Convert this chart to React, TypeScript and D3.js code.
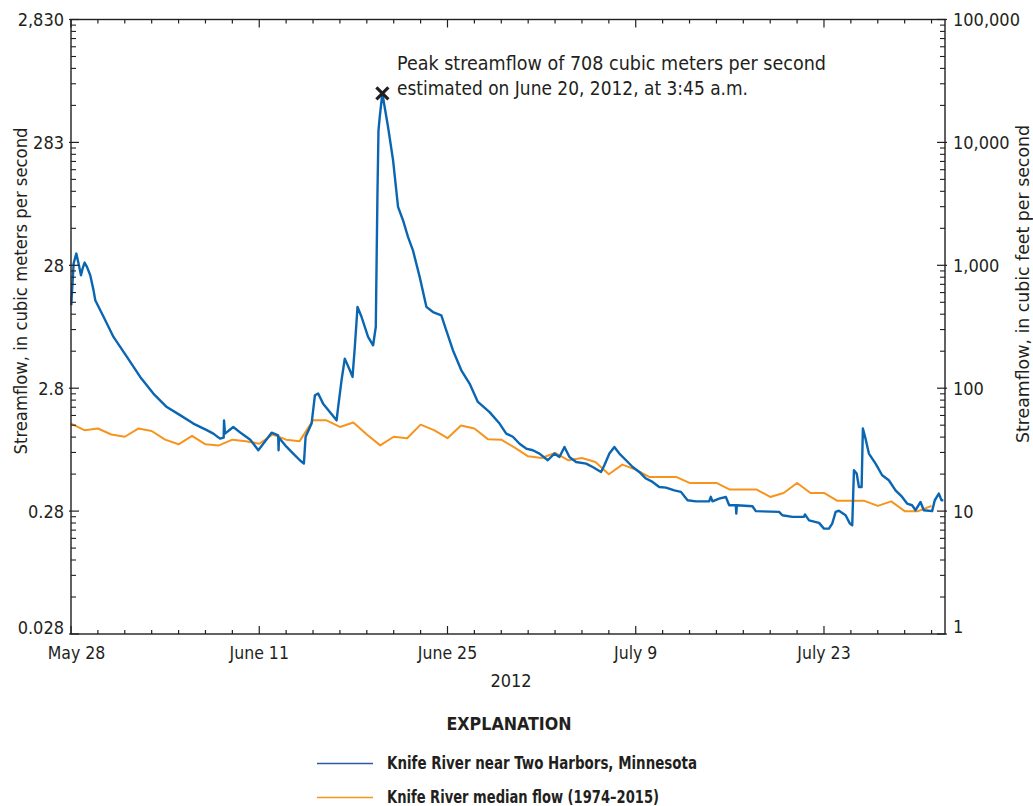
import React from "react";
import * as d3 from "d3";

// 1 cubic foot per second expressed in cubic meters per second
const M3_PER_CFS = 0.0283168;

const leftTickLabels = ["0.028", "0.28", "2.8", "28", "283", "2,830"];
const rightTickLabels = ["1", "10", "100", "1,000", "10,000", "100,000"];
const dateTicks = ["2012-05-28", "2012-06-11", "2012-06-25", "2012-07-09", "2012-07-23"];
const dateTickLabels = ["May 28", "June 11", "June 25", "July 9", "July 23"];

// Daily median flow (1974–2015), m³/s, one value per day starting May 28
const medianStart = "2012-05-28";
const medianFlow = [
  1.46, 1.29, 1.33, 1.19, 1.14, 1.33, 1.27, 1.08, 0.99, 1.16,
  0.99, 0.97, 1.08, 1.05, 1.0, 1.19, 1.08, 1.05, 1.55, 1.55,
  1.37, 1.49, 1.19, 0.97, 1.14, 1.11, 1.43, 1.29, 1.11, 1.41,
  1.33, 1.09, 1.08, 0.93, 0.79, 0.766, 0.842, 0.734, 0.766, 0.711,
  0.565, 0.677, 0.616, 0.537, 0.537, 0.537, 0.48, 0.48, 0.48, 0.424,
  0.424, 0.424, 0.369, 0.398, 0.48, 0.398, 0.398, 0.343, 0.343, 0.343,
  0.312, 0.34, 0.283, 0.283, 0.312,
];

// Knife River near Two Harbors, instantaneous streamflow, m³/s
const knifeRiverFlow: [string, number][] = [
  ["2012-05-28 00:30", 13.4], ["2012-05-28 04:40", 29.3], ["2012-05-28 09:30", 35.3],
  ["2012-05-28 13:30", 29.3], ["2012-05-28 17:50", 23.5], ["2012-05-28 20:40", 26.6],
  ["2012-05-29 00:15", 29.8], ["2012-05-29 04:30", 27.5], ["2012-05-29 10:20", 23.5],
  ["2012-05-29 16:15", 17.7], ["2012-05-29 19:20", 14.7], ["2012-05-30 10:05", 10.8],
  ["2012-05-31 03:50", 7.4], ["2012-06-01 03:50", 5.09], ["2012-06-02 03:30", 3.5],
  ["2012-06-03 03:00", 2.56], ["2012-06-04 03:00", 1.99], ["2012-06-05 02:40", 1.71],
  ["2012-06-06 02:25", 1.46], ["2012-06-07 02:20", 1.29], ["2012-06-07 14:05", 1.21],
  ["2012-06-08 02:00", 1.1], ["2012-06-08 08:30", 1.12], ["2012-06-08 09:10", 1.55],
  ["2012-06-08 10:50", 1.21], ["2012-06-09 01:40", 1.37], ["2012-06-09 16:35", 1.21],
  ["2012-06-10 08:00", 1.08], ["2012-06-10 22:20", 0.885], ["2012-06-11 07:10", 1.0],
  ["2012-06-11 22:05", 1.23], ["2012-06-12 09:50", 1.17], ["2012-06-12 10:30", 0.885],
  ["2012-06-12 11:10", 1.12], ["2012-06-13 00:55", 0.942], ["2012-06-13 12:40", 0.832],
  ["2012-06-14 00:30", 0.734], ["2012-06-14 07:40", 0.69], ["2012-06-14 10:45", 1.14],
  ["2012-06-14 21:25", 1.46], ["2012-06-15 03:20", 2.48], ["2012-06-15 09:10", 2.56],
  ["2012-06-15 18:00", 2.12], ["2012-06-16 06:00", 1.81], ["2012-06-16 18:00", 1.55],
  ["2012-06-16 20:50", 1.99], ["2012-06-17 02:55", 3.29], ["2012-06-17 08:40", 4.93],
  ["2012-06-17 17:45", 3.96], ["2012-06-17 22:30", 3.5], ["2012-06-18 02:35", 6.13],
  ["2012-06-18 07:25", 13.0], ["2012-06-18 14:30", 10.8], ["2012-06-19 02:15", 7.4],
  ["2012-06-19 11:15", 6.33], ["2012-06-19 16:00", 8.92], ["2012-06-19 19:00", 108.6],
  ["2012-06-19 20:50", 355], ["2012-06-19 23:05", 456], ["2012-06-20 03:45", 708],
  ["2012-06-20 13:55", 378], ["2012-06-20 22:50", 203], ["2012-06-21 07:45", 84.5],
  ["2012-06-21 16:35", 65.9], ["2012-06-22 01:30", 48.2], ["2012-06-22 10:20", 37.5],
  ["2012-06-22 22:20", 22.8], ["2012-06-23 10:20", 13.0], ["2012-06-23 22:05", 11.8],
  ["2012-06-24 13:00", 11.1], ["2012-06-24 21:50", 8.38], ["2012-06-25 09:40", 5.77],
  ["2012-06-26 00:40", 3.96], ["2012-06-26 15:25", 3.09], ["2012-06-27 06:15", 2.19],
  ["2012-06-28 03:05", 1.81], ["2012-06-28 20:55", 1.46], ["2012-06-29 08:50", 1.21],
  ["2012-06-29 20:40", 1.14], ["2012-06-30 08:35", 1.0], ["2012-06-30 20:25", 0.914],
  ["2012-07-01 08:15", 0.885], ["2012-07-01 20:10", 0.832], ["2012-07-02 11:00", 0.734],
  ["2012-07-02 22:50", 0.832], ["2012-07-03 07:50", 0.781], ["2012-07-03 16:50", 0.942],
  ["2012-07-04 01:40", 0.781], ["2012-07-04 13:30", 0.711], ["2012-07-05 07:25", 0.69],
  ["2012-07-05 19:10", 0.647], ["2012-07-06 10:05", 0.59], ["2012-07-06 16:00", 0.668],
  ["2012-07-07 01:00", 0.832], ["2012-07-07 09:50", 0.942], ["2012-07-07 18:45", 0.832],
  ["2012-07-08 06:40", 0.734], ["2012-07-08 18:30", 0.647], ["2012-07-09 06:15", 0.59],
  ["2012-07-09 18:15", 0.521], ["2012-07-10 06:00", 0.489], ["2012-07-10 18:00", 0.445],
  ["2012-07-11 06:00", 0.44], ["2012-07-11 20:50", 0.418], ["2012-07-12 08:40", 0.406],
  ["2012-07-12 20:25", 0.347], ["2012-07-13 11:20", 0.34], ["2012-07-14 11:00", 0.34],
  ["2012-07-14 14:00", 0.37], ["2012-07-14 17:00", 0.34], ["2012-07-15 04:50", 0.358],
  ["2012-07-15 16:50", 0.369], ["2012-07-15 22:50", 0.316], ["2012-07-16 10:35", 0.316],
  ["2012-07-16 11:30", 0.27], ["2012-07-16 12:30", 0.316], ["2012-07-17 16:20", 0.31],
  ["2012-07-17 22:20", 0.283], ["2012-07-19 15:50", 0.279], ["2012-07-19 21:40", 0.262],
  ["2012-07-20 15:35", 0.254], ["2012-07-21 12:20", 0.254], ["2012-07-21 14:00", 0.266],
  ["2012-07-21 21:20", 0.238], ["2012-07-22 15:10", 0.227], ["2012-07-23 00:00", 0.204],
  ["2012-07-23 08:55", 0.204], ["2012-07-23 14:40", 0.224], ["2012-07-23 20:50", 0.279],
  ["2012-07-24 02:40", 0.285], ["2012-07-24 14:35", 0.262], ["2012-07-24 22:20", 0.224],
  ["2012-07-25 02:25", 0.217], ["2012-07-25 05:30", 0.609], ["2012-07-25 10:20", 0.572],
  ["2012-07-25 14:25", 0.445], ["2012-07-25 19:10", 0.445], ["2012-07-25 21:25", 1.33],
  ["2012-07-26 02:10", 1.1], ["2012-07-26 08:10", 0.832], ["2012-07-26 20:05", 0.69],
  ["2012-07-27 07:50", 0.554], ["2012-07-27 19:45", 0.505], ["2012-07-28 07:40", 0.418],
  ["2012-07-28 19:30", 0.369], ["2012-07-29 04:20", 0.326], ["2012-07-29 13:15", 0.316],
  ["2012-07-29 19:25", 0.288], ["2012-07-30 04:20", 0.336], ["2012-07-30 10:05", 0.288],
  ["2012-07-31 01:00", 0.283], ["2012-07-31 05:45", 0.347], ["2012-07-31 13:00", 0.393],
  ["2012-07-31 17:45", 0.347], ["2012-07-31 21:00", 0.347],
];

const peakTime = "2012-06-20 03:45";
const peakFlow = 708;

const FONT = "'Liberation Sans Narrow', 'Arial Narrow', 'DejaVu Sans Condensed', sans-serif";
const INK = "#231f20";
const BLUE = "#0a66b2";
const ORANGE = "#f7941d";

const parseTime = d3.timeParse("%Y-%m-%d %H:%M");
const parseDay = d3.timeParse("%Y-%m-%d");

export default function App() {
  const width = 1033;
  const height = 806;
  const left = 71;
  const right = 945;
  const top = 19.5;
  const bottom = 634;

  const start = parseDay("2012-05-28") as Date;
  const end = parseDay("2012-08-01") as Date;

  const x = d3.scaleTime().domain([start, end]).range([left, right]);
  const yL = d3.scaleLog().domain([M3_PER_CFS, M3_PER_CFS * 1e5]).range([bottom, top]);
  const yR = d3.scaleLog().domain([1, 1e5]).range([bottom, top]);

  const flowPts = knifeRiverFlow.map(([t, v]) => ({ t: parseTime(t) as Date, v }));
  const medStart = parseDay(medianStart) as Date;
  const medPts = medianFlow.map((v, i) => ({ t: d3.timeDay.offset(medStart, i), v }));

  const line = d3
    .line<{ t: Date; v: number }>()
    .x((d) => x(d.t))
    .y((d) => yL(d.v));

  const leftMajor = leftTickLabels.map((_, k) => M3_PER_CFS * Math.pow(10, k));
  const leftMinor: number[] = [];
  for (let k = 0; k < 5; k++)
    for (let m = 2; m <= 9; m++) leftMinor.push(M3_PER_CFS * m * Math.pow(10, k));
  const rightMajor = rightTickLabels.map((_, k) => Math.pow(10, k));
  const rightMinor: number[] = [];
  for (let k = 0; k < 5; k++) for (let m = 2; m <= 9; m++) rightMinor.push(m * Math.pow(10, k));

  const dayTicks = d3.range(0, 65, 2).map((i) => d3.timeDay.offset(start, i));
  const majorDates = dateTicks.map((d) => (parseDay(d) as Date).getTime());

  const px = x(parseTime(peakTime) as Date);
  const py = yL(peakFlow);

  return (
    <svg
      width={width}
      height={height}
      style={{ position: "absolute", left: 0, top: 0, background: "#fff" }}
      fontFamily={FONT}
      fill={INK}
    >
      {/* data lines */}
      <path d={line(medPts) || ""} fill="none" stroke={ORANGE} strokeWidth={2} strokeLinejoin="round" />
      <path d={line(flowPts) || ""} fill="none" stroke={BLUE} strokeWidth={2.4} strokeLinejoin="round" />

      {/* frame */}
      <rect x={left} y={top} width={right - left} height={bottom - top} fill="none" stroke={INK} strokeWidth={1.4} />

      {/* bottom and top time ticks */}
      {dayTicks.map((d, i) => {
        const major = majorDates.includes(d.getTime());
        const len = major ? 8 : 4;
        const xx = x(d);
        return (
          <g key={"xt" + i} stroke={INK} strokeWidth={1.2}>
            <line x1={xx} x2={xx} y1={bottom} y2={bottom - len} />
            <line x1={xx} x2={xx} y1={top} y2={top + len} />
          </g>
        );
      })}

      {/* left axis ticks */}
      {leftMajor.map((v, i) => (
        <line key={"lM" + i} x1={left - 2} x2={left + 8} y1={yL(v)} y2={yL(v)} stroke={INK} strokeWidth={1.2} />
      ))}
      {leftMinor.map((v, i) => (
        <line key={"lm" + i} x1={left} x2={left + 5} y1={yL(v)} y2={yL(v)} stroke={INK} strokeWidth={1.1} />
      ))}
      {/* right axis ticks */}
      {rightMajor.map((v, i) => (
        <line key={"rM" + i} x1={right + 2} x2={right - 8} y1={yR(v)} y2={yR(v)} stroke={INK} strokeWidth={1.2} />
      ))}
      {rightMinor.map((v, i) => (
        <line key={"rm" + i} x1={right} x2={right - 5} y1={yR(v)} y2={yR(v)} stroke={INK} strokeWidth={1.1} />
      ))}

      {/* left tick labels */}
      {leftMajor.map((v, i) => (
        <text
          key={"lL" + i}
          x={64}
          y={yL(v) + (i === 0 ? -7 : 0)}
          textAnchor="end"
          dominantBaseline="central"
          fontSize={18}
        >
          {leftTickLabels[i]}
        </text>
      ))}
      {/* right tick labels */}
      {rightMajor.map((v, i) => (
        <text
          key={"rL" + i}
          x={953}
          y={yR(v) + (i === 0 ? -8 : 0)}
          textAnchor="start"
          dominantBaseline="central"
          fontSize={18}
        >
          {rightTickLabels[i]}
        </text>
      ))}

      {/* date labels */}
      {dateTicks.map((d, i) => (
        <text
          key={"dL" + i}
          x={x(parseDay(d) as Date) + (i === 0 ? 5.5 : 0)}
          y={659}
          textAnchor="middle"
          fontSize={17.5}
        >
          {dateTickLabels[i]}
        </text>
      ))}
      <text x={511} y={686.5} textAnchor="middle" fontSize={18}>
        2012
      </text>

      {/* axis titles */}
      <text
        transform={`translate(20,291) rotate(-90)`}
        textAnchor="middle"
        dominantBaseline="central"
        fontSize={18}
        textLength={327}
        lengthAdjust="spacingAndGlyphs"
      >
        Streamflow, in cubic meters per second
      </text>
      <text
        transform={`translate(1022,284) rotate(-90)`}
        textAnchor="middle"
        dominantBaseline="central"
        fontSize={18}
        textLength={318}
        lengthAdjust="spacingAndGlyphs"
      >
        Streamflow, in cubic feet per second
      </text>

      {/* peak marker and note */}
      <g stroke={INK} strokeWidth={3.2} strokeLinecap="butt">
        <line x1={px - 6} y1={py - 6} x2={px + 6} y2={py + 6} />
        <line x1={px - 6} y1={py + 6} x2={px + 6} y2={py - 6} />
      </g>
      <text x={397} y={70} fontSize={19} textLength={429} lengthAdjust="spacingAndGlyphs">
        Peak streamflow of {peakFlow} cubic meters per second
      </text>
      <text x={397} y={95} fontSize={19} textLength={351} lengthAdjust="spacingAndGlyphs">
        estimated on June 20, 2012, at 3:45 a.m.
      </text>

      {/* explanation */}
      <text x={509} y={729.5} textAnchor="middle" fontSize={18} fontWeight="bold" textLength={125} lengthAdjust="spacingAndGlyphs">
        EXPLANATION
      </text>
      <line x1={317} x2={373} y1={763.5} y2={763.5} stroke="#2e5aa8" strokeWidth={1.6} />
      <text x={387} y={769} fontSize={17} fontWeight="bold" textLength={310} lengthAdjust="spacingAndGlyphs">
        Knife River near Two Harbors, Minnesota
      </text>
      <line x1={317} x2={373} y1={797.5} y2={797.5} stroke={ORANGE} strokeWidth={1.6} />
      <text x={387} y={803} fontSize={17} fontWeight="bold" textLength={272} lengthAdjust="spacingAndGlyphs">
        Knife River median flow (1974–2015)
      </text>
    </svg>
  );
}
